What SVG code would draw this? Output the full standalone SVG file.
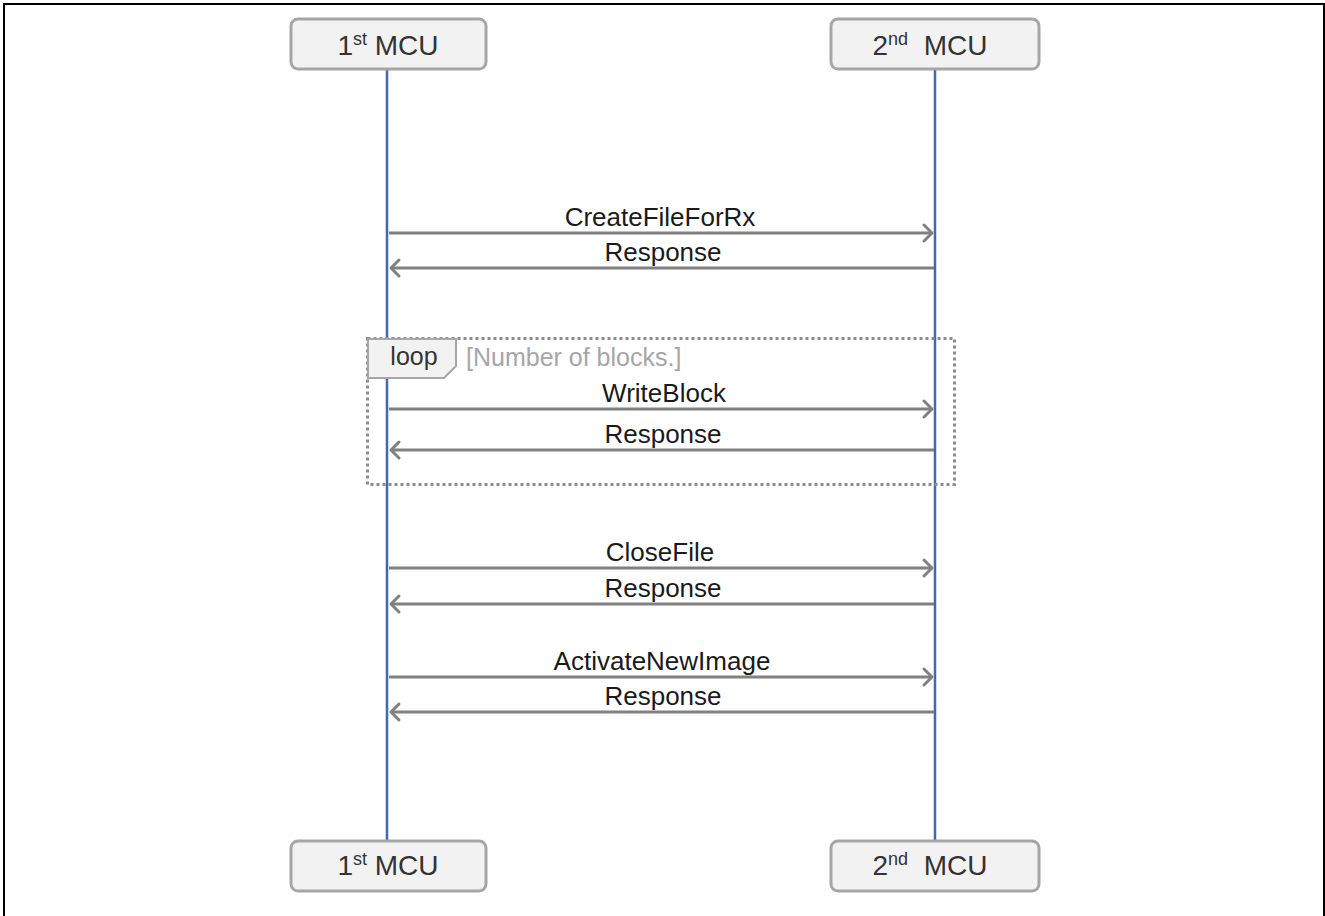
<svg xmlns="http://www.w3.org/2000/svg" width="1325" height="916" viewBox="0 0 1325 916">
  <style>
    .box { fill: #f2f2f2; stroke: #a6a6a6; stroke-width: 3; }
    .lbl { font-family: "Liberation Sans", Arial, sans-serif; font-size: 28px; fill: #333333; text-anchor: middle; }
    .sup { font-size: 18px; }
    .msg { font-family: "Liberation Sans", Arial, sans-serif; font-size: 26px; fill: #1a1a1a; text-anchor: middle; }
    .life { stroke: #3f6aab; stroke-width: 2.5; }
    .arrow { stroke: #808080; stroke-width: 3; fill: none; }
    .head { stroke: #808080; stroke-width: 3; fill: none; stroke-linecap: round; stroke-linejoin: round; }
  </style>

  <rect x="0" y="0" width="1325" height="916" fill="#ffffff"/>
  <rect x="4" y="4" width="1320" height="925" fill="none" stroke="#000000" stroke-width="2"/>

  <!-- lifelines -->
  <g id="lifelines">
    <line class="life" x1="387" y1="69" x2="387" y2="842"/>
    <line class="life" x1="935" y1="69" x2="935" y2="842"/>
  </g>

  <!-- participants -->
  <g id="mcu1-top">
    <rect class="box" x="291" y="19" width="195" height="50" rx="7"/>
    <text class="lbl" x="388" y="55">1<tspan class="sup" dy="-10">st</tspan><tspan dy="10"> MCU</tspan></text>
  </g>
  <g id="mcu2-top">
    <rect class="box" x="831" y="19" width="208" height="50" rx="7"/>
    <text class="lbl" x="930" y="55" xml:space="preserve">2<tspan class="sup" dy="-10">nd</tspan><tspan dy="10">  MCU</tspan></text>
  </g>
  <g id="mcu1-bottom">
    <rect class="box" x="291" y="841" width="195" height="50" rx="7"/>
    <text class="lbl" x="388" y="875">1<tspan class="sup" dy="-10">st</tspan><tspan dy="10"> MCU</tspan></text>
  </g>
  <g id="mcu2-bottom">
    <rect class="box" x="831" y="841" width="208" height="50" rx="7"/>
    <text class="lbl" x="930" y="875" xml:space="preserve">2<tspan class="sup" dy="-10">nd</tspan><tspan dy="10">  MCU</tspan></text>
  </g>

  <!-- loop fragment -->
  <g id="loop">
    <rect x="367.5" y="338.5" width="587" height="146" fill="none" stroke="#8c8c8c" stroke-width="3" stroke-dasharray="3 3"/>
    <path d="M368 339 H456 V366 L444 378 H368 Z" fill="#f2f2f2" stroke="#a6a6a6" stroke-width="2"/>
    <text x="414" y="365" font-family="'Liberation Sans', Arial, sans-serif" font-size="25" fill="#333333" text-anchor="middle">loop</text>
    <text x="466" y="366" font-family="'Liberation Sans', Arial, sans-serif" font-size="25" fill="#a6a6a6">[Number of blocks.]</text>
  </g>

  <!-- messages -->
  <g id="connectors">
    <line class="arrow" x1="389" y1="233" x2="932" y2="233"/>
    <polyline class="head" points="924,225 932,233 924,241"/>
    <line class="arrow" x1="391" y1="268" x2="934" y2="268"/>
    <polyline class="head" points="399,260 391,268 399,276"/>

    <line class="arrow" x1="389" y1="409" x2="932" y2="409"/>
    <polyline class="head" points="924,401 932,409 924,417"/>
    <line class="arrow" x1="391" y1="450" x2="934" y2="450"/>
    <polyline class="head" points="399,442 391,450 399,458"/>

    <line class="arrow" x1="389" y1="568" x2="932" y2="568"/>
    <polyline class="head" points="924,560 932,568 924,576"/>
    <line class="arrow" x1="391" y1="604" x2="934" y2="604"/>
    <polyline class="head" points="399,596 391,604 399,612"/>

    <line class="arrow" x1="389" y1="677" x2="932" y2="677"/>
    <polyline class="head" points="924,669 932,677 924,685"/>
    <line class="arrow" x1="391" y1="712" x2="934" y2="712"/>
    <polyline class="head" points="399,704 391,712 399,720"/>
  </g>

  <g id="labels">
    <text class="msg" x="660" y="226">CreateFileForRx</text>
    <text class="msg" x="663" y="261">Response</text>
    <text class="msg" x="664" y="402">WriteBlock</text>
    <text class="msg" x="663" y="443">Response</text>
    <text class="msg" x="660" y="561">CloseFile</text>
    <text class="msg" x="663" y="597">Response</text>
    <text class="msg" x="662" y="670">ActivateNewImage</text>
    <text class="msg" x="663" y="705">Response</text>
  </g>
</svg>
